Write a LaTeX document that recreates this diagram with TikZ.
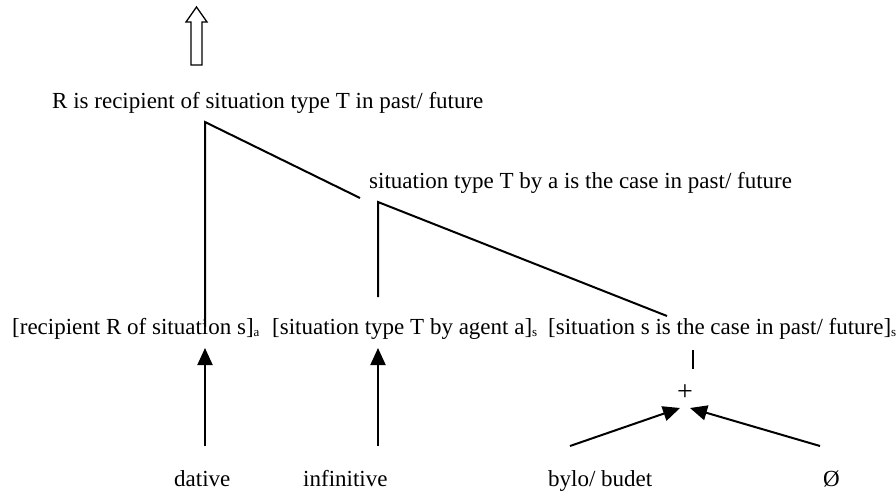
\documentclass[tikz,border=0pt]{standalone}
\usepackage{fontspec}
\setmainfont{Liberation Serif}
\usetikzlibrary{arrows.meta}
\newcommand{\sbs}[1]{\raisebox{-0.25ex}{\fontsize{13}{13}\selectfont #1}}
\begin{document}
\begin{tikzpicture}[x=1pt,y=-1pt,
  lbl/.style={inner sep=0pt,anchor=base west,font=\fontsize{23}{26}\selectfont},
  ln/.style={line width=2pt},
  arr/.style={line width=2pt,-{Triangle[length=17pt,width=15pt]}}]
\useasboundingbox (0,0) rectangle (896,495);
% hollow up arrow
\draw[line width=1.3pt,line join=miter]
  (191,65) -- (191,22) -- (186,22) -- (196.5,7) -- (207,22) -- (202,22) -- (202,65) -- cycle;
% texts
\node[lbl] (top) at (52,108) {R is recipient of situation type T in past/ future};
\node[lbl] (mid) at (369,188) {situation type T by a is the case in past/ future};
\node[lbl] (r1) at (12,334) {[recipient R of situation s]\sbs{a}};
\node[lbl] (r2) at (272,334) {[situation type T by agent a]\sbs{s}};
\node[lbl] (r3) at (548,334) {[situation s is the case in past/ future]\sbs{s}};
\node[lbl] (dat) at (174,486) {dative};
\node[lbl] (inf) at (303,486) {infinitive};
\node[lbl] (byl) at (548,486) {bylo/ budet};
\node[lbl] (nul) at (823,486) {Ø};
\node[inner sep=0pt,font=\fontsize{28}{30}\selectfont] (plus) at (685,393) {+};
% coordinates
\coordinate (a1) at (205,122);
\coordinate (a1e) at (360,198);
\coordinate (a1b) at (205,327);
\coordinate (a2) at (378,202);
\coordinate (a2b) at (378,297);
\coordinate (a2e) at (667,316);
\coordinate (t1) at (693,350);
\coordinate (t2) at (693,369);
\coordinate (d0) at (205,446);
\coordinate (d1) at (205,348);
\coordinate (i0) at (378,446);
\coordinate (i1) at (378,348);
\coordinate (b0) at (570,446);
\coordinate (b1) at (680,408);
\coordinate (n0) at (820,446);
\coordinate (n1) at (690,408);
% tree
\draw[ln] (a1b) -- (a1) -- (a1e);
\draw[ln] (a2b) -- (a2) -- (a2e);
\draw[ln] (t1) -- (t2);
% arrows
\draw[arr] (d0) -- (d1);
\draw[arr] (i0) -- (i1);
\draw[arr] (b0) -- (b1);
\draw[arr] (n0) -- (n1);
\end{tikzpicture}
\end{document}
